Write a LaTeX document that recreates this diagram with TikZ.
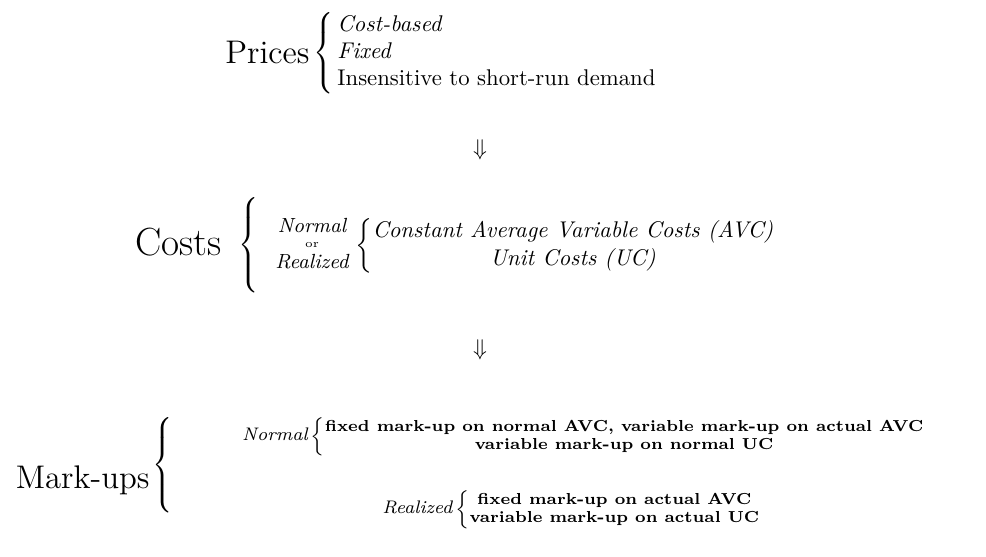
\documentclass[tikz,border=0pt]{standalone}
\usepackage{amsmath,amssymb}
\usepackage{tikz}
\usetikzlibrary{positioning}

\newcommand{\tallbrace}[1]{$\left\{\vrule height #1 depth #1 width 0pt\right.$}
\tikzset{
  heading/.style={font=\Large, inner sep=0pt},
  choice/.style={inner sep=0pt},
  basis/.style={font=\small\itshape, inner sep=0pt},
  markup/.style={font=\scriptsize\bfseries, inner sep=0pt},
  implies/.style={inner sep=0pt}
}

\begin{document}
\begin{tikzpicture}[x=0.44pt, y=-0.44pt]
    \useasboundingbox (0,0) rectangle (986,556);
    % prices
    \node[heading, anchor=base east] (prices) at (310,63) {Prices};
    \node[choice, anchor=west] (pricelist) at (313,53) {$\left\{\begin{array}{@{\,}l}\textit{Cost-based}\\ \textit{Fixed}\\ \text{Insensitive to short-run demand}\end{array}\right.$};
    \node[implies] (down1) at (480,150) {$\Downarrow$};
    % costs
    \node[heading, font=\LARGE, anchor=base east] (costs) at (222,255) {Costs};
    \node[choice] (costbrace) at (250,245) {\tallbrace{18pt}};
    \node[basis, anchor=base] (normalc) at (312,232) {Normal};
    \node[choice, font=\tiny, anchor=base] (orc) at (312,247) {or};
    \node[basis, anchor=base] (realc) at (312,268) {Realized};
    \node[choice, anchor=west] (costlist) at (355,246) {$\left\{\begin{array}{@{}c}\textit{Constant Average Variable Costs (AVC)}\\ \textit{Unit Costs (UC)}\end{array}\right.$};
    \node[implies] (down2) at (480,350) {$\Downarrow$};
    % mark-ups
    \node[heading, anchor=base east] (markups) at (150,488) {Mark-ups};
    \node[choice] (markbrace) at (164,465) {\tallbrace{18pt}};
    \node[markup, xscale=1.03] (normal) at (590,437) {$\text{\footnotesize\itshape\mdseries Normal}\left\{\begin{array}{@{}c}\text{fixed mark-up on normal AVC, variable mark-up on actual AVC}\\ \text{variable mark-up on normal UC}\end{array}\right.$};
    \node[markup, xscale=1.03] (realized) at (578,510) {$\text{\footnotesize\itshape\mdseries Realized}\left\{\begin{array}{@{}c}\text{fixed mark-up on actual AVC}\\ \text{variable mark-up on actual UC}\end{array}\right.$};
\end{tikzpicture}
\end{document}
